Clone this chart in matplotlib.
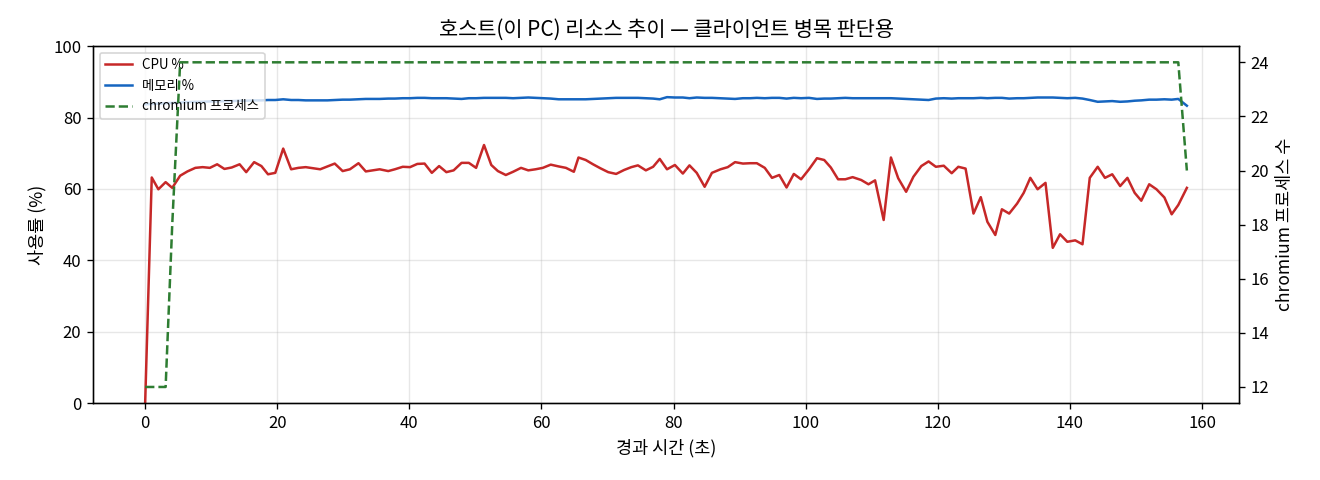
import numpy as np
import matplotlib
matplotlib.use("Agg")
import matplotlib.pyplot as plt

plt.rcParams['font.family'] = ['Noto Sans CJK KR', 'DejaVu Sans']
plt.rcParams['axes.unicode_minus'] = False

# elapsed seconds of each sample
elapsed = [0.0, 1.0, 2.0, 3.1, 4.1, 5.3, 6.4, 7.6, 8.7, 9.8,
           10.9, 12.0, 13.1, 14.3, 15.3, 16.5, 17.6, 18.6, 19.7, 20.9,
           22.1, 23.2, 24.3, 25.4, 26.5, 27.6, 28.7, 29.9, 31.0, 32.3,
           33.4, 34.4, 35.5, 36.8, 37.8, 39.0, 40.1, 41.2, 42.3, 43.4,
           44.5, 45.6, 46.7, 47.9, 49.0, 50.1, 51.3, 52.4, 53.4, 54.6,
           55.7, 56.9, 58.0, 59.1, 60.2, 61.4, 62.6, 63.7, 64.9, 65.6,
           66.7, 67.8, 68.9, 70.1, 71.3, 72.5, 73.6, 74.6, 75.8, 76.9,
           77.9, 79.0, 80.2, 81.4, 82.4, 83.5, 84.7, 85.8, 87.1, 88.2,
           89.3, 90.5, 91.6, 92.6, 93.8, 94.9, 96.0, 97.1, 98.2, 99.3,
           100.5, 101.7, 102.8, 103.8, 104.9, 106.0, 107.1, 108.4, 109.5, 110.5,
           111.8, 112.9, 114.0, 115.2, 116.3, 117.5, 118.6, 119.7, 120.9, 122.1,
           123.1, 124.2, 125.4, 126.5, 127.5, 128.7, 129.7, 130.8, 132.0, 133.0,
           134.0, 135.1, 136.3, 137.4, 138.5, 139.6, 140.8, 141.9, 143.0, 144.2,
           145.3, 146.4, 147.6, 148.7, 149.8, 150.8, 152.0, 153.1, 154.3, 155.4,
           156.4, 157.7]

cpu = [0.0, 63.2, 59.9, 61.9, 60.3, 63.7, 64.9, 65.9, 66.1, 65.9,
       66.9, 65.6, 66.0, 66.9, 64.7, 67.5, 66.4, 64.1, 64.5, 71.3,
       65.5, 65.9, 66.1, 65.8, 65.5, 66.3, 67.1, 65.0, 65.5, 67.2,
       64.9, 65.2, 65.5, 65.0, 65.5, 66.2, 66.1, 67.0, 67.1, 64.5,
       66.4, 64.7, 65.2, 67.3, 67.3, 65.9, 72.3, 66.7, 65.0, 63.9,
       64.8, 65.9, 65.2, 65.5, 65.9, 66.8, 66.3, 65.9, 64.8, 68.8,
       68.1, 66.9, 65.8, 64.7, 64.2, 65.3, 66.1, 66.6, 65.2, 66.2,
       68.4, 65.5, 66.7, 64.3, 66.6, 64.5, 60.6, 64.5, 65.5, 66.1,
       67.5, 67.1, 67.2, 67.2, 65.9, 63.1, 63.9, 60.4, 64.2, 62.7,
       65.5, 68.6, 68.1, 66.0, 62.7, 62.7, 63.3, 62.5, 61.3, 62.4,
       51.3, 68.8, 63.0, 59.2, 63.4, 66.4, 67.7, 66.2, 66.5, 64.4,
       66.2, 65.7, 53.1, 57.7, 50.8, 47.1, 54.3, 53.1, 55.9, 58.9,
       63.1, 59.9, 61.7, 43.5, 47.3, 45.2, 45.6, 44.5, 63.1, 66.2,
       63.1, 64.1, 60.8, 63.1, 58.9, 56.7, 61.3, 59.9, 57.6, 52.9,
       55.5, 60.3]

memory = [83.7, 83.8, 83.9, 84.0, 84.1, 84.2, 84.3, 84.4, 84.4, 84.5,
          84.5, 84.6, 84.6, 84.7, 84.7, 84.8, 84.8, 84.9, 84.9, 85.1,
          84.9, 84.9, 84.8, 84.8, 84.8, 84.8, 84.9, 85.0, 85.0, 85.1,
          85.2, 85.2, 85.2, 85.3, 85.3, 85.4, 85.4, 85.5, 85.5, 85.4,
          85.4, 85.4, 85.3, 85.2, 85.4, 85.4, 85.5, 85.5, 85.5, 85.5,
          85.4, 85.5, 85.6, 85.5, 85.4, 85.3, 85.1, 85.1, 85.1, 85.1,
          85.1, 85.2, 85.3, 85.4, 85.5, 85.5, 85.5, 85.5, 85.4, 85.3,
          85.1, 85.7, 85.6, 85.6, 85.4, 85.6, 85.5, 85.5, 85.4, 85.3,
          85.2, 85.4, 85.4, 85.5, 85.4, 85.5, 85.5, 85.3, 85.5, 85.4,
          85.5, 85.2, 85.3, 85.3, 85.4, 85.5, 85.4, 85.4, 85.4, 85.4,
          85.4, 85.4, 85.3, 85.2, 85.1, 85.0, 84.9, 85.3, 85.4, 85.3,
          85.4, 85.4, 85.4, 85.5, 85.4, 85.5, 85.5, 85.3, 85.4, 85.4,
          85.5, 85.6, 85.6, 85.6, 85.5, 85.4, 85.5, 85.3, 84.9, 84.4,
          84.5, 84.6, 84.4, 84.5, 84.7, 84.8, 85.0, 85.0, 85.1, 85.0,
          85.2, 83.3]

chromium = [12] * 4 + [18] + [24] * 136 + [20]

fig, ax = plt.subplots(figsize=(11, 4), dpi=120)
fig.subplots_adjust(left=0.0705, right=0.9386, top=0.904, bottom=0.16)

l1, = ax.plot(elapsed, cpu, color="#c62828", lw=1.5, label="CPU %")
l2, = ax.plot(elapsed, memory, color="#1565c0", lw=1.5, label="메모리 %")
ax.set_ylim(0, 100)
ax.set_xlabel("경과 시간 (초)", fontsize=10.5)
ax.set_ylabel("사용률 (%)", fontsize=10.5)
ax.grid(True, alpha=0.3)
ax.tick_params(labelsize=10)

ax2 = ax.twinx()
l3, = ax2.plot(elapsed, chromium, color="#2e7d32", lw=1.5, ls="--",
               label="chromium 프로세스")
ax2.set_ylabel("chromium 프로세스 수", fontsize=10.5)
ax2.tick_params(labelsize=10)

ax.legend([l1, l2, l3], [l.get_label() for l in (l1, l2, l3)],
          loc="upper left", fontsize=8)
ax.set_title("호스트(이 PC) 리소스 추이 — 클라이언트 병목 판단용", fontsize=12.5)

fig.savefig("out.png", dpi=120)
